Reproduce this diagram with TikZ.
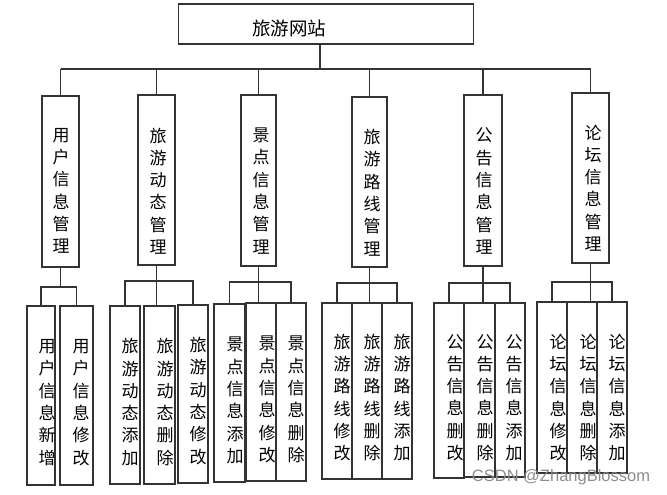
\documentclass[tikz,border=0pt]{standalone}
\usepackage{fontspec}
\newfontfamily\cjk{Noto Sans CJK SC}
\setsansfont{Liberation Sans}

\begin{document}
\begin{tikzpicture}[
    x=1pt, y=-1pt,
    line width=1.1pt,
    box/.style={
        draw=black!80,
        line width=1.1pt,
        inner sep=0pt
    },
    vtext/.style={
        font=\cjk\fontsize{17}{22.3}\selectfont,
        align=center,
        inner sep=0pt
    },
    toptext/.style={
        font=\cjk\fontsize{18.5}{20}\selectfont,
        inner sep=0pt
    },
    wm/.style={
        font=\sffamily\fontsize{16.5}{18}\selectfont,
        text=black!45,
        inner sep=0pt
    },
    link/.style={draw=black!80, line width=1.1pt}
]
    \useasboundingbox (0,0) rectangle (667,495);

    % top
    \node[box, minimum width=295, minimum height=40] (root) at (326,24) {};
    \node[toptext] (rootlbl) at (289,28) {旅游网站};

    % level 2
    \node[box, minimum width=37, minimum height=171] (m1) at (60.5,181.5) {};
    \node[box, minimum width=37, minimum height=170] (m2) at (156.5,180) {};
    \node[box, minimum width=35, minimum height=171] (m3) at (258.5,180.5) {};
    \node[box, minimum width=35, minimum height=170] (m4) at (369.5,182) {};
    \node[box, minimum width=38, minimum height=171] (m5) at (483,180.5) {};
    \node[box, minimum width=37, minimum height=170] (m6) at (590.5,178) {};

    \node[vtext] (m1lbl) at (61,191) {用\\户\\信\\息\\管\\理};
    \node[vtext] (m2lbl) at (158,191) {旅\\游\\动\\态\\管\\理};
    \node[vtext] (m3lbl) at (261,191) {景\\点\\信\\息\\管\\理};
    \node[vtext] (m4lbl) at (372,192.5) {旅\\游\\路\\线\\管\\理};
    \node[vtext] (m5lbl) at (484,191) {公\\告\\信\\息\\管\\理};
    \node[vtext] (m6lbl) at (593,188) {论\\坛\\信\\息\\管\\理};

    % level 3
    \node[box, minimum width=28, minimum height=179] (c11) at (41,395.5) {};
    \node[box, minimum width=33, minimum height=179] (c12) at (76.5,395.5) {};
    \node[vtext] (c11lbl) at (47,402.5) {用\\户\\信\\息\\新\\增};
    \node[vtext] (c12lbl) at (81,402.5) {用\\户\\信\\息\\修\\改};

    \node[box, minimum width=30, minimum height=178] (c21) at (125,395) {};
    \node[box, minimum width=31, minimum height=178] (c22) at (159.5,395) {};
    \node[box, minimum width=30, minimum height=178] (c23) at (193,394) {};
    \node[vtext] (c21lbl) at (130,402) {旅\\游\\动\\态\\添\\加};
    \node[vtext] (c22lbl) at (165,402) {旅\\游\\动\\态\\删\\除};
    \node[vtext] (c23lbl) at (198,401) {旅\\游\\动\\态\\修\\改};

    \node[box, minimum width=31, minimum height=178] (c31) at (229.5,393) {};
    \node[box, minimum width=30, minimum height=178] (c32) at (261,392) {};
    \node[box, minimum width=30, minimum height=178] (c33) at (291,392) {};
    \node[vtext] (c31lbl) at (235,400.5) {景\\点\\信\\息\\添\\加};
    \node[vtext] (c32lbl) at (267,399.5) {景\\点\\信\\息\\修\\改};
    \node[vtext] (c33lbl) at (296,399.5) {景\\点\\信\\息\\删\\除};

    \node[box, minimum width=30, minimum height=176] (c41) at (337,391) {};
    \node[box, minimum width=30, minimum height=176] (c42) at (367,391) {};
    \node[box, minimum width=30, minimum height=176] (c43) at (397,391) {};
    \node[vtext] (c41lbl) at (342,397.5) {旅\\游\\路\\线\\修\\改};
    \node[vtext] (c42lbl) at (372,397.5) {旅\\游\\路\\线\\删\\除};
    \node[vtext] (c43lbl) at (402,397.5) {旅\\游\\路\\线\\添\\加};

    \node[box, minimum width=30, minimum height=175] (c51) at (449,390.5) {};
    \node[box, minimum width=31, minimum height=174] (c52) at (479.5,390) {};
    \node[box, minimum width=30, minimum height=174] (c53) at (510,390) {};
    \node[vtext] (c51lbl) at (455,397.5) {公\\告\\信\\息\\删\\改};
    \node[vtext] (c52lbl) at (485,397.5) {公\\告\\信\\息\\删\\除};
    \node[vtext] (c53lbl) at (514,397.5) {公\\告\\信\\息\\添\\加};

    \node[box, minimum width=30, minimum height=171] (c61) at (552,387.5) {};
    \node[box, minimum width=30, minimum height=171] (c62) at (582,387.5) {};
    \node[box, minimum width=30, minimum height=171] (c63) at (612,387.5) {};
    \node[vtext] (c61lbl) at (558,397.5) {论\\坛\\信\\息\\修\\改};
    \node[vtext] (c62lbl) at (588,397.5) {论\\坛\\信\\息\\删\\除};
    \node[vtext] (c63lbl) at (617,397.5) {论\\坛\\信\\息\\添\\加};

    % top bus
    \coordinate (bus) at (320,69);
    \draw[link] (bus |- root.south) -- (bus);
    \draw[link] (m1.north |- bus) -- (m6.north |- bus);
    \draw[link] (m1.north |- bus) -- (m1.north);
    \draw[link] (m2.north |- bus) -- (m2.north);
    \draw[link] (m3.north |- bus) -- (m3.north);
    \draw[link] (m4.north |- bus) -- (m4.north);
    \draw[link] (m5.north |- bus) -- (m5.north);
    \draw[link] (m6.north |- bus) -- (m6.north);

    % groups
    \draw[link] (m1.south) -- (m1.south |- 0,287);
    \draw[link] (c11.north) |- (m1.south |- 0,287) -| (c12.north);

    \draw[link] (m2.south) -- (m2.south |- c22.north);
    \draw[link] (c21.north) |- (m2.south |- 0,281) -| (c23.north);

    \draw[link] (m3.south) -- (m3.south |- c32.north);
    \draw[link] (c31.north) |- (m3.south |- 0,282) -| (c33.north);

    \draw[link] (m4.south) -- (m4.south |- c42.north);
    \draw[link] (c41.north) |- (m4.south |- 0,283) -| (c43.north);

    \draw[link] (m5.south) -- (m5.south |- c52.north);
    \draw[link] (c51.north) |- (m5.south |- 0,283) -| (c53.north);

    \draw[link] (m6.south) -- (m6.south |- c62.north);
    \draw[link] (c61.north) |- (m6.south |- 0,282) -| (c63.north);

    \node[wm] (mark) at (561,477) {CSDN @ZhangBlossom};
\end{tikzpicture}
\end{document}
